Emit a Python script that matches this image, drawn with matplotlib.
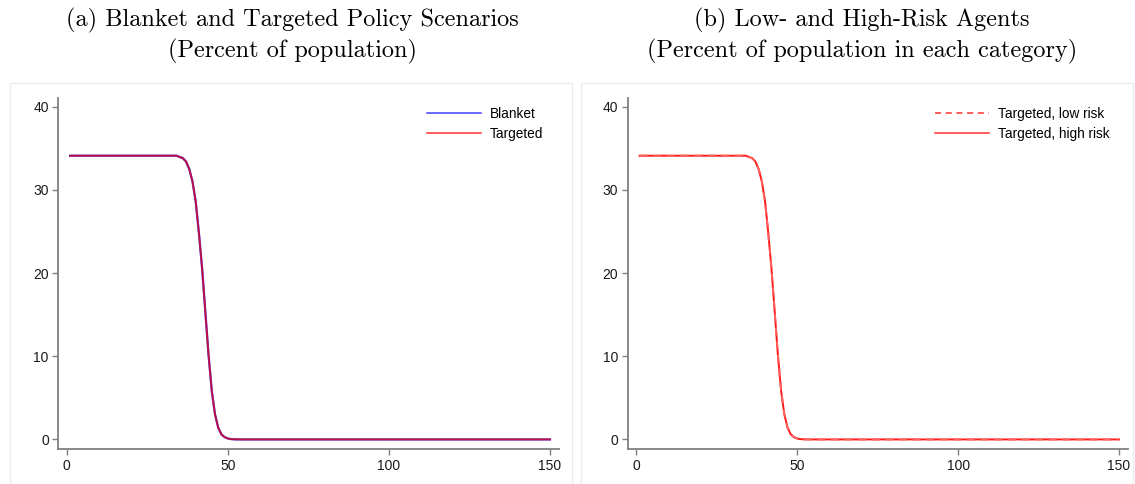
import numpy as np
import matplotlib
matplotlib.use("Agg")
import matplotlib.pyplot as plt
from matplotlib.patches import Rectangle
from matplotlib.lines import Line2D

# periods and infection share (percent of population)
periods = list(range(1, 151))
blanket = [34.1] * 34 + [33.95, 33.8, 33.4, 32.5, 31.0, 28.6, 24.8, 20.5, 15.3,
                         10.1, 5.8, 3.0, 1.4, 0.6, 0.27, 0.11, 0.04, 0.01] + [0.0] * 98
targeted = list(blanket)
targeted_low = list(blanket)
targeted_high = list(blanket)

titles = ["(a) Blanket and Targeted Policy Scenarios", "(b) Low- and High-Risk Agents"]
subtitles = ["(Percent of population)", "(Percent of population in each category)"]
xticks = [0, 50, 100, 150]
yticks = [0, 10, 20, 30, 40]

W, H = 1135, 484
fig = plt.figure(figsize=(W / 100, H / 100), dpi=100)
plt.rcParams['font.family'] = ['Liberation Sans', 'DejaVu Sans']

def px(x0, y0, x1, y1):
    return [x0 / W, 1 - y1 / H, (x1 - x0) / W, (y1 - y0) / H]

# light panel frames
for (a, b) in [(10, 572), (581, 1133)]:
    fig.patches.append(Rectangle((a / W, -0.01), (b - a) / W, 1 - 83 / H + 0.01,
                                 transform=fig.transFigure, fill=False,
                                 edgecolor='#ececec', lw=1.0))

axL = fig.add_axes(px(58.5, 98.3, 559, 449))
axR = fig.add_axes(px(628, 98.3, 1128, 449))

axL.plot(periods, blanket, color='#3030e0', lw=1.6)
axL.plot(periods, targeted, color='#ff0000', lw=1.3, alpha=0.7)

axR.plot(periods, targeted_high, color='#ff1a1a', lw=1.4, zorder=2)
axR.plot(periods, targeted_low, color='#ff6060', lw=1.4, ls=(0, (4, 3)), zorder=3)

for ax in (axL, axR):
    ax.set_xlim(-2.6, 152.8)
    ax.set_ylim(-1.15, 41.0)
    ax.set_xticks(xticks)
    ax.set_yticks(yticks)
    for s in ('top', 'right'):
        ax.spines[s].set_visible(False)
    for s in ('left', 'bottom'):
        ax.spines[s].set_color('#808080')
        ax.spines[s].set_linewidth(1.3)
    ax.tick_params(direction='out', length=4, width=1, color='#808080',
                   labelsize=10, labelcolor='#1a1a1a', pad=3)

legkw = dict(loc='upper left', bbox_transform=fig.transFigure, frameon=False, fontsize=9.8,
             handlelength=4.0, handletextpad=0.6, labelspacing=0.45,
             borderpad=0, borderaxespad=0)
axL.legend([Line2D([], [], color='#4040ff', lw=1.1), Line2D([], [], color='#ff3030', lw=1.1)],
           ['Blanket', 'Targeted'], bbox_to_anchor=(427 / W, 1 - 107 / H), **legkw)
axR.legend([Line2D([], [], color='#ff3030', lw=1.1, ls=(0, (4, 3))),
            Line2D([], [], color='#ff3030', lw=1.1)],
           ['Targeted, low risk', 'Targeted, high risk'],
           bbox_to_anchor=(935 / W, 1 - 107 / H), **legkw)

for cx, t1, t2 in zip([292, 862], titles, subtitles):
    fig.text(cx / W, 1 - 20 / H, t1, ha='center', va='center', family='cmr10', fontsize=17.5)
    fig.text(cx / W, 1 - 51 / H, t2, ha='center', va='center', family='cmr10', fontsize=17.5)

fig.savefig("out.png", dpi=100)
